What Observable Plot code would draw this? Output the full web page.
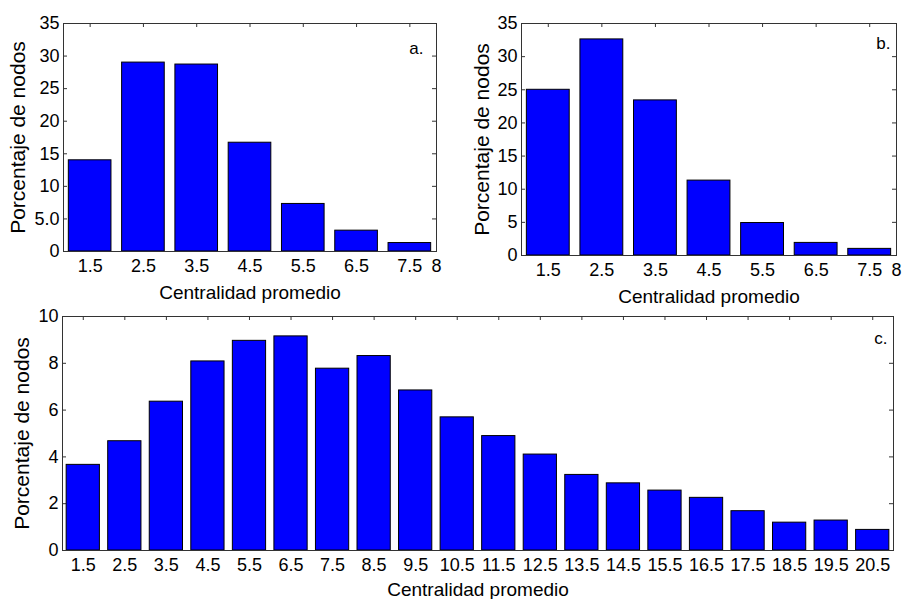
<!DOCTYPE html>
<html><head><meta charset="utf-8">
<script src="https://cdn.jsdelivr.net/npm/d3@7"></script>
<script src="https://cdn.jsdelivr.net/npm/@observablehq/plot@0.6"></script>
<style>
html,body{margin:0;padding:0;background:#fff;}
#root{position:relative;width:904px;height:599px;overflow:hidden;font-family:"Liberation Sans",Arial,sans-serif;}
#root svg{position:absolute;overflow:visible;}
</style></head><body><div id="root"></div>
<script>
// ---- Panel a ----
const catsA = [1.5, 2.5, 3.5, 4.5, 5.5, 6.5, 7.5];
const valuesA = [14.0, 29.0, 28.7, 16.7, 7.3, 3.2, 1.3];
const xTicksA = [1.5, 2.5, 3.5, 4.5, 5.5, 6.5, 7.5, 8];
const xLabelsA = ["1.5", "2.5", "3.5", "4.5", "5.5", "6.5", "7.5", "8"];
const yTicksA = [0, 5, 10, 15, 20, 25, 30, 35];
const yLabelsA = ["0", "5.0", "10", "15", "20", "25", "30", "35"];

// ---- Panel b ----
const catsB = [1.5, 2.5, 3.5, 4.5, 5.5, 6.5, 7.5];
const valuesB = [25.0, 32.6, 23.4, 11.3, 4.9, 1.9, 1.0];
const xTicksB = [1.5, 2.5, 3.5, 4.5, 5.5, 6.5, 7.5, 8];
const xLabelsB = ["1.5", "2.5", "3.5", "4.5", "5.5", "6.5", "7.5", "8"];
const yTicksB = [0, 5, 10, 15, 20, 25, 30, 35];
const yLabelsB = ["0", "5", "10", "15", "20", "25", "30", "35"];

// ---- Panel c ----
const catsC = [1.5, 2.5, 3.5, 4.5, 5.5, 6.5, 7.5, 8.5, 9.5, 10.5, 11.5, 12.5, 13.5, 14.5, 15.5, 16.5, 17.5, 18.5, 19.5, 20.5];
const valuesC = [3.66, 4.67, 6.36, 8.08, 8.96, 9.15, 7.77, 8.31, 6.84, 5.69, 4.89, 4.10, 3.23, 2.87, 2.56, 2.25, 1.68, 1.19, 1.28, 0.88];
const xTicksC = catsC;
const xLabelsC = ["1.5", "2.5", "3.5", "4.5", "5.5", "6.5", "7.5", "8.5", "9.5", "10.5", "11.5", "12.5", "13.5", "14.5", "15.5", "16.5", "17.5", "18.5", "19.5", "20.5"];
const yTicksC = [0, 2, 4, 6, 8, 10];
const yLabelsC = ["0", "2", "4", "6", "8", "10"];

const xTitle = "Centralidad promedio";
const yTitle = "Porcentaje de nodos";

const FONT = "Liberation Sans, Arial, sans-serif";
const root = document.getElementById("root");

function panel(o) {
  const data = o.cats.map((c, i) => ({c, v: o.values[i]}));
  const plotW = o.width - o.ml - o.mr;
  const plotH = o.height - o.mt - o.mb;
  const innerY = o.yTicks.slice(1, -1);
  const svg = Plot.plot({
    width: o.width,
    height: o.height,
    marginLeft: o.ml, marginRight: o.mr, marginTop: o.mt, marginBottom: o.mb,
    style: {fontFamily: FONT, fontSize: "18px", color: "black", background: "transparent", overflow: "visible"},
    x: {domain: o.xDomain},
    y: {domain: o.yDomain},
    marks: [
      // inward ticks on all four sides (MATLAB style)
      Plot.tickX(o.cats, {x: d => d, insetBottom: plotH - 4, stroke: "#333"}),
      Plot.tickX(o.cats, {x: d => d, insetTop: plotH - 4, stroke: "#333"}),
      Plot.tickY(innerY, {y: d => d, insetLeft: plotW - 4, stroke: "#333"}),
      Plot.tickY(innerY, {y: d => d, insetRight: plotW - 4, stroke: "#333"}),
      Plot.rect(data, {x1: d => d.c - 0.4, x2: d => d.c + 0.4, y1: 0, y2: "v", fill: "#0000ff", stroke: "#000", strokeWidth: 1}),
      Plot.frame({stroke: "#333", strokeWidth: 1}),
      Plot.axisX({ticks: o.xTicks, tickSize: 0, tickPadding: 8, fontSize: 18,
        tickFormat: d => o.xLabels[o.xTicks.indexOf(d)], label: null}),
      Plot.axisY({ticks: o.yTicks, tickSize: 0, tickPadding: 4, fontSize: 18,
        tickFormat: d => o.yLabels[o.yTicks.indexOf(d)], label: null}),
      Plot.text([xTitle], {frameAnchor: "bottom", dy: o.xlDy, text: d => d, fontSize: 19, textAnchor: "middle", lineAnchor: "middle", fill: "black"}),
      Plot.text([yTitle], {frameAnchor: "left", dx: -o.ylDx, text: d => d, fontSize: 21, rotate: -90, textAnchor: "middle", lineAnchor: "middle", fill: "black"}),
      Plot.text([o.tag], {frameAnchor: "top-right", dx: o.tagDx, dy: o.tagDy, text: d => d, fontSize: 17, textAnchor: "end", lineAnchor: "middle", fill: "black"})
    ]
  });
  svg.style.left = o.left + "px";
  svg.style.top = o.top + "px";
  root.appendChild(svg);
}

panel({cats: catsA, values: valuesA, xTicks: xTicksA, xLabels: xLabelsA, yTicks: yTicksA, yLabels: yLabelsA,
  xDomain: [1, 8], yDomain: [0, 35], width: 450, height: 300, ml: 63, mr: 14, mt: 23, mb: 49,
  left: 0, top: 0, tag: "a.", tagDx: -13, tagDy: 25, xlDy: 41, ylDx: 45});

panel({cats: catsB, values: valuesB, xTicks: xTicksB, xLabels: xLabelsB, yTicks: yTicksB, yLabels: yLabelsB,
  xDomain: [1, 8], yDomain: [0, 35], width: 454, height: 310, ml: 71, mr: 8, mt: 23, mb: 55,
  left: 450, top: 0, tag: "b.", tagDx: -6, tagDy: 20, xlDy: 41, ylDx: 39});

panel({cats: catsC, values: valuesC, xTicks: xTicksC, xLabels: xLabelsC, yTicks: yTicksC, yLabels: yLabelsC,
  xDomain: [1, 21], yDomain: [0, 10], width: 904, height: 299, ml: 62, mr: 11, mt: 16, mb: 49,
  left: 0, top: 300, tag: "c.", tagDx: -6, tagDy: 22, xlDy: 39, ylDx: 40});
</script></body></html>
